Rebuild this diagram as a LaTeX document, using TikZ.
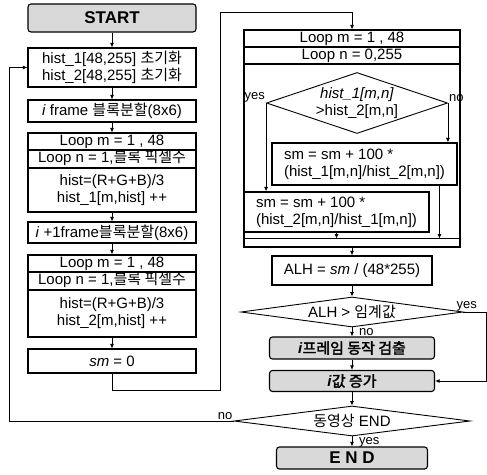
\documentclass[tikz,border=0pt]{standalone}
\usepackage{fontspec}
\setmainfont{Liberation Sans}
\newfontfamily\kr{Noto Sans CJK KR}
\newfontfamily\krb[FakeBold=2]{Noto Sans CJK KR}
\usetikzlibrary{shapes.geometric, arrows.meta, positioning}

\begin{document}
\begin{tikzpicture}[
    x=1pt, y=-1pt,
    font=\fontsize{15}{17}\selectfont,
    box/.style={rectangle, draw=black, line width=1.1pt, minimum width=168pt, inner sep=2pt, align=center},
    row/.style={box, text height=10.5pt, text depth=3pt, inner ysep=1pt, minimum height=17pt},
    grey/.style={box, fill=gray!30, rounded corners=3pt},
    dia/.style={diamond, draw=black, line width=0.9pt, inner sep=0pt},
    arr/.style={-{Latex[length=4.5pt, width=4pt]}, line width=0.8pt},
    lbl/.style={font=\fontsize{13}{13}\selectfont, inner sep=1pt}
]
    \useasboundingbox (0,0) rectangle (487,474);

    % Left column: histograms of frame i and i+1
    \node[grey, minimum height=28pt, font=\fontsize{17}{17}\selectfont\bfseries] (start) at (112,18) {START};
    \node[box, minimum height=39pt] (init) at (112,67.5) {hist\_1[48,255] {\kr 초기화}\\hist\_2[48,255] {\kr 초기화}};
    \node[box, minimum height=22pt] (frame1) at (112,111) {\textit{i} frame {\kr 블록분할}(8x6)};
    \node[row] (loopm1) at (112,141.5) {Loop m = 1 , 48};
    \node[row, minimum height=18pt] (loopn1) at (112,159) {Loop n = 1,{\kr 블록 픽셀수}};
    \node[box, minimum height=44pt] (hist1) at (112,190) {hist=(R+G+B)/3\\hist\_1[m,hist] ++};
    \node[box, minimum height=21pt] (frame2) at (112,232.5) {\textit{i} +1frame{\kr 블록분할}(8x6)};
    \node[row] (loopm2) at (112,263.5) {Loop m = 1 , 48};
    \node[row, minimum height=18pt] (loopn2) at (112,281) {Loop n = 1,{\kr 블록 픽셀수}};
    \node[box, minimum height=47pt] (hist2) at (112,313.5) {hist=(R+G+B)/3\\hist\_2[m,hist] ++};
    \node[box, minimum height=24pt] (sm0) at (112,361) {\textit{sm} = 0};

    \draw[arr] (start) -- (init);
    \draw[arr] (init) -- (frame1);
    \draw[arr] (frame1) -- (loopm1);
    \draw[arr] (hist1) -- (frame2);
    \draw[arr] (frame2) -- (loopm2);
    \draw[arr] (hist2) -- (sm0);

    % Right column: comparison loop
    \node[row, minimum width=216pt] (loopm3) at (352,38.5) {Loop m = 1 , 48};
    \node[row, minimum width=216pt] (loopn3) at (352,55.5) {Loop n = 0,255};
    \node[box, minimum width=216pt, minimum height=183pt] (loopbody) at (352,155.5) {};
    \coordinate (foot) at ([yshift=9pt]loopbody.south);
    \draw[line width=1.1pt] (loopbody.south west |- foot) -- (loopbody.south east |- foot);

    \node[dia, minimum width=181pt, minimum height=61pt] (cmp) at (357,103) {};
    \node[align=center, inner sep=0pt] (cmptext) at (cmp) {\textit{hist\_1[m,n]}\\>hist\_2[m,n]};
    \node[box, minimum width=185pt, minimum height=42pt, align=left] (box1) at (364.5,164) {sm = sm + 100 *\\(hist\_1[m,n]/hist\_2[m,n])};
    \node[box, minimum width=185pt, minimum height=40pt, align=left] (box2) at (336.5,212) {sm = sm + 100 *\\(hist\_2[m,n]/hist\_1[m,n])};

    \draw[arr] (sm0.south) -- ++(0,17) -| (220,12) -| (loopm3.north);
    \draw[arr] (cmp.west) -- (cmp.west |- box2.north);
    \draw[arr] (cmp.east) -- (cmp.east |- box1.north);
    \draw[arr] (box2.south) -- (box2.south |- foot);
    \draw[arr] ([xshift=75pt]box1.south) -- ([xshift=75pt]box1.south |- foot);
    \node[lbl, anchor=south east] (yes1) at (cmp.west) {yes};
    \node[lbl, anchor=south west] (no1) at (cmp.east) {no};

    % Threshold test and end
    \node[box, minimum width=160pt, minimum height=29pt] (alh) at (352,270.5) {ALH = \textit{sm} / (48*255)};
    \node[dia, minimum width=222pt, minimum height=30pt] (dalh) at (352,312) {};
    \node[inner sep=0pt] (dalhtext) at (dalh) {ALH > {\kr 임계값}};
    \node[grey, minimum width=165pt, minimum height=22pt] (detect) at (352,348) {\textbf{\textit{i}}{\krb 프레임 동작 검출}};
    \node[grey, minimum width=165pt, minimum height=21pt] (inc) at (352,381) {\textbf{\textit{i}}{\krb 값 증가}};
    \node[dia, minimum width=236pt, minimum height=30pt] (dend) at (352,421) {};
    \node[inner sep=0pt] (dendtext) at (dend) {{\kr 동영상} END};
    \node[grey, minimum width=151pt, minimum height=22pt, font=\fontsize{17}{17}\selectfont\bfseries] (finish) at (352,458) {E N D};

    \draw[arr] (loopbody.south) -- (alh.north);
    \draw[arr] (alh) -- (dalh);
    \draw[arr] (dalh) -- (detect);
    \node[lbl, anchor=north west] (no2) at ([xshift=6pt]dalh.south) {no};
    \draw[arr] (detect) -- (inc);
    \draw[arr] (inc) -- (dend);
    \draw[arr] (dend) -- (finish);
    \node[lbl, anchor=north west] (yes3) at ([xshift=6pt]dend.south) {yes};
    \draw[arr] (dalh.east) -- ++(23,0) |- (inc.east);
    \node[lbl, anchor=south west] (yes2) at ([xshift=-8pt]dalh.east) {yes};
    \draw[arr] (dend.west) -| ([xshift=-18pt]init.west) -- (init.west);
    \node[lbl, anchor=south east] (no3) at (dend.west) {no};
\end{tikzpicture}
\end{document}
